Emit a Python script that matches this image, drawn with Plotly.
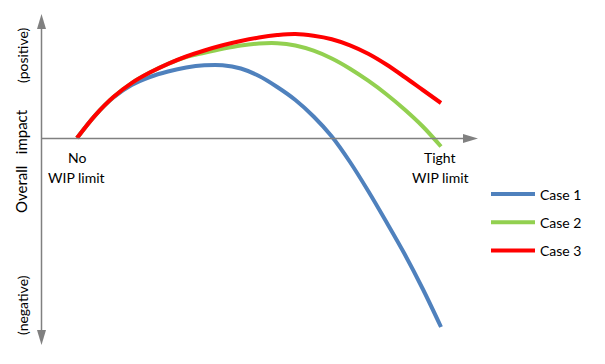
import plotly.graph_objects as go

# ---- data (x: 0 = no WIP limit, 100 = tight WIP limit; y: overall impact, arbitrary units)
series_names = ["Case 1", "Case 2", "Case 3"]
wip_x = [0, 5, 10, 15, 20, 25, 30, 35, 40, 45, 50, 55, 60, 65, 70, 75, 80, 85, 90, 95, 100]
case1_y = [0, 22.7, 40.5, 53, 61, 66.5, 70.5, 72.7, 72.8, 69.5, 62, 51, 38, 21.5, 1.5,
           -24, -53, -84, -116, -151, -189]
case2_y = [0, 22.7, 41, 54.9, 65.4, 74.1, 81, 85.3, 89.2, 92.5, 94.5, 94.8, 92.5, 87.3, 79.5,
           69.3, 57.3, 43.8, 28.5, 11.5, -8.5]
case3_y = [0, 22.7, 41, 54.9, 65.4, 74.1, 81.5, 87.5, 92.7, 97, 100.5, 102.9, 104, 102.3, 98.8,
           92.7, 84.3, 73.5, 61, 48, 35]
colors = ["#4F81BD", "#92D050", "#FF0000"]

W, H = 605, 364
FONT = "Lato, Open Sans, sans-serif"

def fx(p):
    return p / W

def fy(p):
    return 1 - p / H

fig = go.Figure()
for name, ys, c in zip(series_names, [case1_y, case2_y, case3_y], colors):
    fig.add_trace(go.Scatter(x=wip_x, y=ys, mode="lines", name=name,
                             legendgroup=name, hoverinfo="skip",
                             line=dict(color=c, width=4, shape="spline")))

# data units -> pixels: x px = 77 + 3.64*x, y px = 138 - y
x0 = -77 / 3.64
x1 = (W - 77) / 3.64
axis_col = "#808080"
shapes = [
    dict(type="line", xref="paper", yref="paper", x0=fx(41.5), x1=fx(41.5),
         y0=fy(28), y1=fy(331), line=dict(color=axis_col, width=1.5)),
    dict(type="line", xref="paper", yref="paper", x0=fx(41.5), x1=fx(463),
         y0=fy(138.5), y1=fy(138.5), line=dict(color=axis_col, width=1.5)),
    dict(type="path", xref="paper", yref="paper",
         path=f"M {fx(41.5)} {fy(14)} L {fx(37)} {fy(29)} L {fx(46)} {fy(29)} Z",
         fillcolor=axis_col, line=dict(width=0)),
    dict(type="path", xref="paper", yref="paper",
         path=f"M {fx(41.5)} {fy(345)} L {fx(37)} {fy(330)} L {fx(46)} {fy(330)} Z",
         fillcolor=axis_col, line=dict(width=0)),
    dict(type="path", xref="paper", yref="paper",
         path=f"M {fx(478)} {fy(138.5)} L {fx(463)} {fy(134)} L {fx(463)} {fy(143)} Z",
         fillcolor=axis_col, line=dict(width=0)),
]

def ann(text, x, y, angle=0, size=14):
    return dict(text=text, xref="paper", yref="paper", x=fx(x), y=fy(y),
                xanchor="center", yanchor="middle", showarrow=False,
                textangle=angle, font=dict(family=FONT, size=size, color="#000000"))

annotations = [
    ann("(positive)", 22, 55, -90),
    ann("Overall\u00a0\u00a0\u00a0impact", 21, 161, -90, 15),
    ann("(negative)", 22, 305, -90),
    ann("No", 77, 157),
    ann("WIP limit", 77, 177),
    ann("Tight", 440, 157),
    ann("WIP limit", 440, 177),
]

fig.update_layout(
    width=W, height=H,
    margin=dict(l=0, r=0, t=0, b=0),
    paper_bgcolor="white", plot_bgcolor="white",
    xaxis=dict(range=[x0, x1], visible=False),
    yaxis=dict(range=[138 - H, 138], visible=False),
    shapes=shapes, annotations=annotations,
    showlegend=True,
    legend=dict(x=fx(486), y=fy(178.5), xanchor="left", yanchor="top",
                font=dict(family=FONT, size=14, color="#000000"),
                itemwidth=44, tracegroupgap=7, bgcolor="rgba(0,0,0,0)"),
)

fig.write_html("out.html", config={"displayModeBar": False},
               post_script="document.body.style.margin='0';")
